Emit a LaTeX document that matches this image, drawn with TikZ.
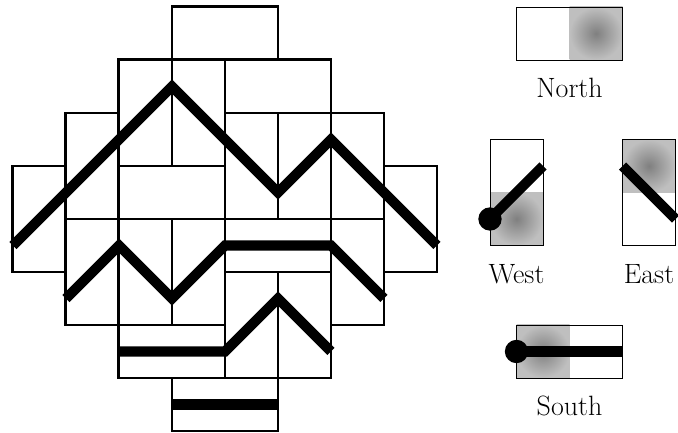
\documentclass[tikz,border=0pt]{standalone}
\begin{document}
\begin{tikzpicture}[x=1cm,y=1cm,
  domino/.style={draw=black, line width=1.6pt},
  dpath/.style={draw=black, line width=5.4pt, line cap=butt, line join=miter},
  keybox/.style={draw=black, line width=0.5pt},
  keyshade/.style={inner color=gray, outer color=lightgray},
  keylabel/.style={anchor=base, font=\fontsize{15}{18}\selectfont, inner sep=0pt},
  pin/.style={fill=black}]
\useasboundingbox (-0.245,-0.019) rectangle (12.547,8.132);

% Domino tiling of the Aztec diamond of order 4
\foreach \a/\b/\c/\d in {
  3/7/5/8,
  2/5/3/7, 3/5/4/7, 4/6/6/7,
  1/4/2/6, 4/4/5/6, 5/4/6/6, 6/4/7/6, 2/4/4/5,
  0/3/1/5, 7/3/8/5,
  1/2/2/4, 2/2/3/4, 3/2/4/4, 4/3/6/4, 6/2/7/4,
  2/1/4/2, 4/1/5/3, 5/1/6/3,
  3/0/5/1}
  \draw[domino] (\a,\b) rectangle (\c,\d);

% Non-intersecting lattice paths
\coordinate (p1a) at (0,3.5); \coordinate (p1b) at (3,6.5);
\coordinate (p1c) at (5,4.5); \coordinate (p1d) at (6,5.5);
\coordinate (p1e) at (8,3.5);
\draw[dpath] (p1a) -- (p1b) -- (p1c) -- (p1d) -- (p1e);

\coordinate (p2a) at (1,2.5); \coordinate (p2b) at (2,3.5);
\coordinate (p2c) at (3,2.5); \coordinate (p2d) at (4,3.5);
\coordinate (p2e) at (6,3.5); \coordinate (p2f) at (7,2.5);
\draw[dpath] (p2a) -- (p2b) -- (p2c) -- (p2d) -- (p2e) -- (p2f);

\coordinate (p3a) at (2,1.5); \coordinate (p3b) at (4,1.5);
\coordinate (p3c) at (5,2.5); \coordinate (p3d) at (6,1.5);
\draw[dpath] (p3a) -- (p3b) -- (p3c) -- (p3d);

\coordinate (p4a) at (3,0.5); \coordinate (p4b) at (5,0.5);
\draw[dpath] (p4a) -- (p4b);

% Key: North
\shade[keyshade] (10.5,7) rectangle (11.5,8);
\draw[keybox] (9.5,7) rectangle (11.5,8);
\node[keylabel] (north) at (10.5,6.296) {North};

% Key: West
\shade[keyshade] (9,3.5) rectangle (10,4.5);
\draw[keybox] (9,3.5) rectangle (10,5.5);
\coordinate (wa) at (9,4); \coordinate (wb) at (10,5);
\draw[dpath] (wa) -- (wb);
\fill[pin] (wa) circle (0.22);
\node[keylabel] (west) at (9.5,2.79) {West};

% Key: East
\shade[keyshade] (11.5,4.5) rectangle (12.5,5.5);
\draw[keybox] (11.5,3.5) rectangle (12.5,5.5);
\coordinate (ea) at (11.5,5); \coordinate (eb) at (12.5,4);
\draw[dpath] (ea) -- (eb);
\node[keylabel] (east) at (12,2.79) {East};

% Key: South
\shade[keyshade] (9.5,1) rectangle (10.5,2);
\draw[keybox] (9.5,1) rectangle (11.5,2);
\coordinate (sa) at (9.5,1.5); \coordinate (sb) at (11.5,1.5);
\draw[dpath] (sa) -- (sb);
\fill[pin] (sa) circle (0.22);
\node[keylabel] (south) at (10.5,0.30) {South};
\end{tikzpicture}
\end{document}
